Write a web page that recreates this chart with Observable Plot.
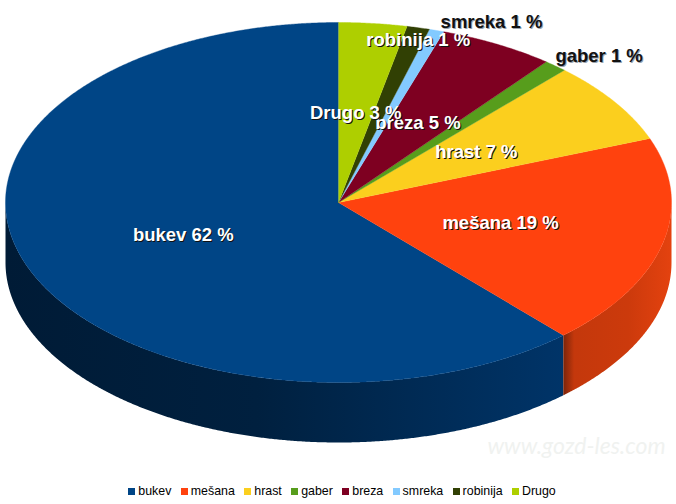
<!DOCTYPE html>
<html>
<head>
<meta charset="utf-8">
<script src="https://cdn.jsdelivr.net/npm/d3@7"></script>
<script src="https://cdn.jsdelivr.net/npm/@observablehq/plot@0.6"></script>
<style>
html,body{margin:0;padding:0;background:#fff;}
#legend{display:flex;justify-content:center;height:26px;align-items:center;padding-left:8px;box-sizing:border-box;font:12.4px "Liberation Sans",sans-serif;color:#000;}
#legend .item{display:flex;align-items:center;margin:0 4.7px;}
#legend .sw{width:7px;height:7px;margin-right:3px;}
</style>
</head>
<body>
<div id="chart"></div>
<div id="legend"></div>
<script>
const names = ["bukev","mešana","hrast","gaber","breza","smreka","robinija","Drugo"];
const shares = [61.8,19.0,7.35,1.14,5.6,0.72,1.1,3.3];
const percentLabels = [62,19,7,1,5,1,1,3];
const colors = ["#004586","#ff420e","#fbcf1e","#579d1c","#7e0021","#83caff","#314004","#aecf00"];
const placements = ["inner","inner","inner","outerStart","inner","outerStart","outerMiddle","inner"];
const sideGradients = {
  "bukev":  [[0,"#001b36"],[0.45,"#00203f"],[1,"#003468"]],
  "mešana": [[0,"#7a240a"],[0.1,"#c4380c"],[0.6,"#cc3a0c"],[1,"#e4420f"]]
};
const labelNudge = {gaber:[0,-10],smreka:[4,-8],robinija:[0,12]};
const depth = 1/3;

const total = d3.sum(shares);
let cum = 0;
const arcs = names.map((name,i)=>{
  const a0 = cum/total*2*Math.PI; cum += shares[i];
  const a1 = cum/total*2*Math.PI;
  return {name,i,a0,a1,mid:(a0+a1)/2,color:colors[i]};
});
// angle runs counter-clockwise from twelve o'clock
const pt = (a,r=1,off=0)=>({x:-Math.sin(a)*r,y:Math.cos(a)*r-off});
const arcPts = (a0,a1,off=0)=>{
  const n = Math.max(2,Math.ceil((a1-a0)/0.005));
  return d3.range(n+1).map(k=>pt(a0+(a1-a0)*k/n,1,off));
};
const topPolys = arcs.map(s=>({color:s.color,points:[{x:0,y:0},...arcPts(s.a0,s.a1)]}));
// visible rim: lower half of the ellipse only
const sidePolys = arcs.map(s=>{
  const lo = Math.max(s.a0,Math.PI/2), hi = Math.min(s.a1,3*Math.PI/2);
  if (hi<=lo || !sideGradients[s.name]) return null;
  return {id:"side"+s.i,name:s.name,points:[...arcPts(lo,hi),...arcPts(lo,hi,depth).reverse()]};
}).filter(Boolean);

const labels = arcs.map(s=>{
  const p = pt(s.mid, placements[s.i]==="inner"?0.5:1);
  return {x:p.x,y:p.y,name:s.name,text:`${s.name} ${percentLabels[s.i]} %`,place:placements[s.i],
          ink:(placements[s.i]==="outerStart")?"#111":"#fff",
          shade:(placements[s.i]==="outerStart")?"#9aa3ad":"#111"};
});

const labelFont = {fontFamily:"Liberation Sans",fontWeight:"bold",fontSize:18.5};
function labelMarks(d){
  const base = {x:"x",y:"y",text:"text",...labelFont,
    textAnchor:d.place==="outerStart"?"start":"middle",
    lineAnchor:"middle"};
  const [dx,dy] = labelNudge[d.name] || [0,0];
  return [
    Plot.text([d],{...base,fill:d.shade,dx:dx+1,dy:dy+1}),
    Plot.text([d],{...base,fill:d.ink,dx,dy})
  ];
}

function gradientDefs(){
  const ns="http://www.w3.org/2000/svg";
  const defs=document.createElementNS(ns,"defs");
  sidePolys.forEach(p=>{
    const g=document.createElementNS(ns,"linearGradient");
    g.setAttribute("id",p.id);
    sideGradients[p.name].forEach(([o,c])=>{
      const st=document.createElementNS(ns,"stop");
      st.setAttribute("offset",o);st.setAttribute("stop-color",c);g.appendChild(st);
    });
    defs.appendChild(g);
  });
  return defs;
}

const chart = Plot.plot({
  width:676,height:478,
  marginLeft:5,marginRight:5,marginTop:22,marginBottom:96,
  x:{domain:[-1,1],axis:null},
  y:{domain:[-1,1],axis:null},
  style:{background:"transparent",overflow:"visible"},
  marks:[
    gradientDefs,
    Plot.text(["www.gozd-les.com"],{frameAnchor:"bottom-right",dx:-6,dy:71,fill:"#f0f2f0",fontFamily:"Lato",fontStyle:"italic",fontSize:23}),
    ...sidePolys.map(p=>Plot.line(p.points,{x:"x",y:"y",fill:`url(#${p.id})`,stroke:"none"})),
    ...topPolys.map(p=>Plot.line(p.points,{x:"x",y:"y",fill:p.color,stroke:p.color,strokeWidth:0.4})),
    ...labels.flatMap(labelMarks)
  ]
});
document.getElementById("chart").appendChild(chart);
chart.style.display="block";

const legend=document.getElementById("legend");
names.forEach((n,i)=>{
  const it=document.createElement("div");it.className="item";
  const sw=document.createElement("div");sw.className="sw";sw.style.background=colors[i];
  const t=document.createElement("span");t.textContent=n;
  it.append(sw,t);legend.appendChild(it);
});
</script>
</body>
</html>
